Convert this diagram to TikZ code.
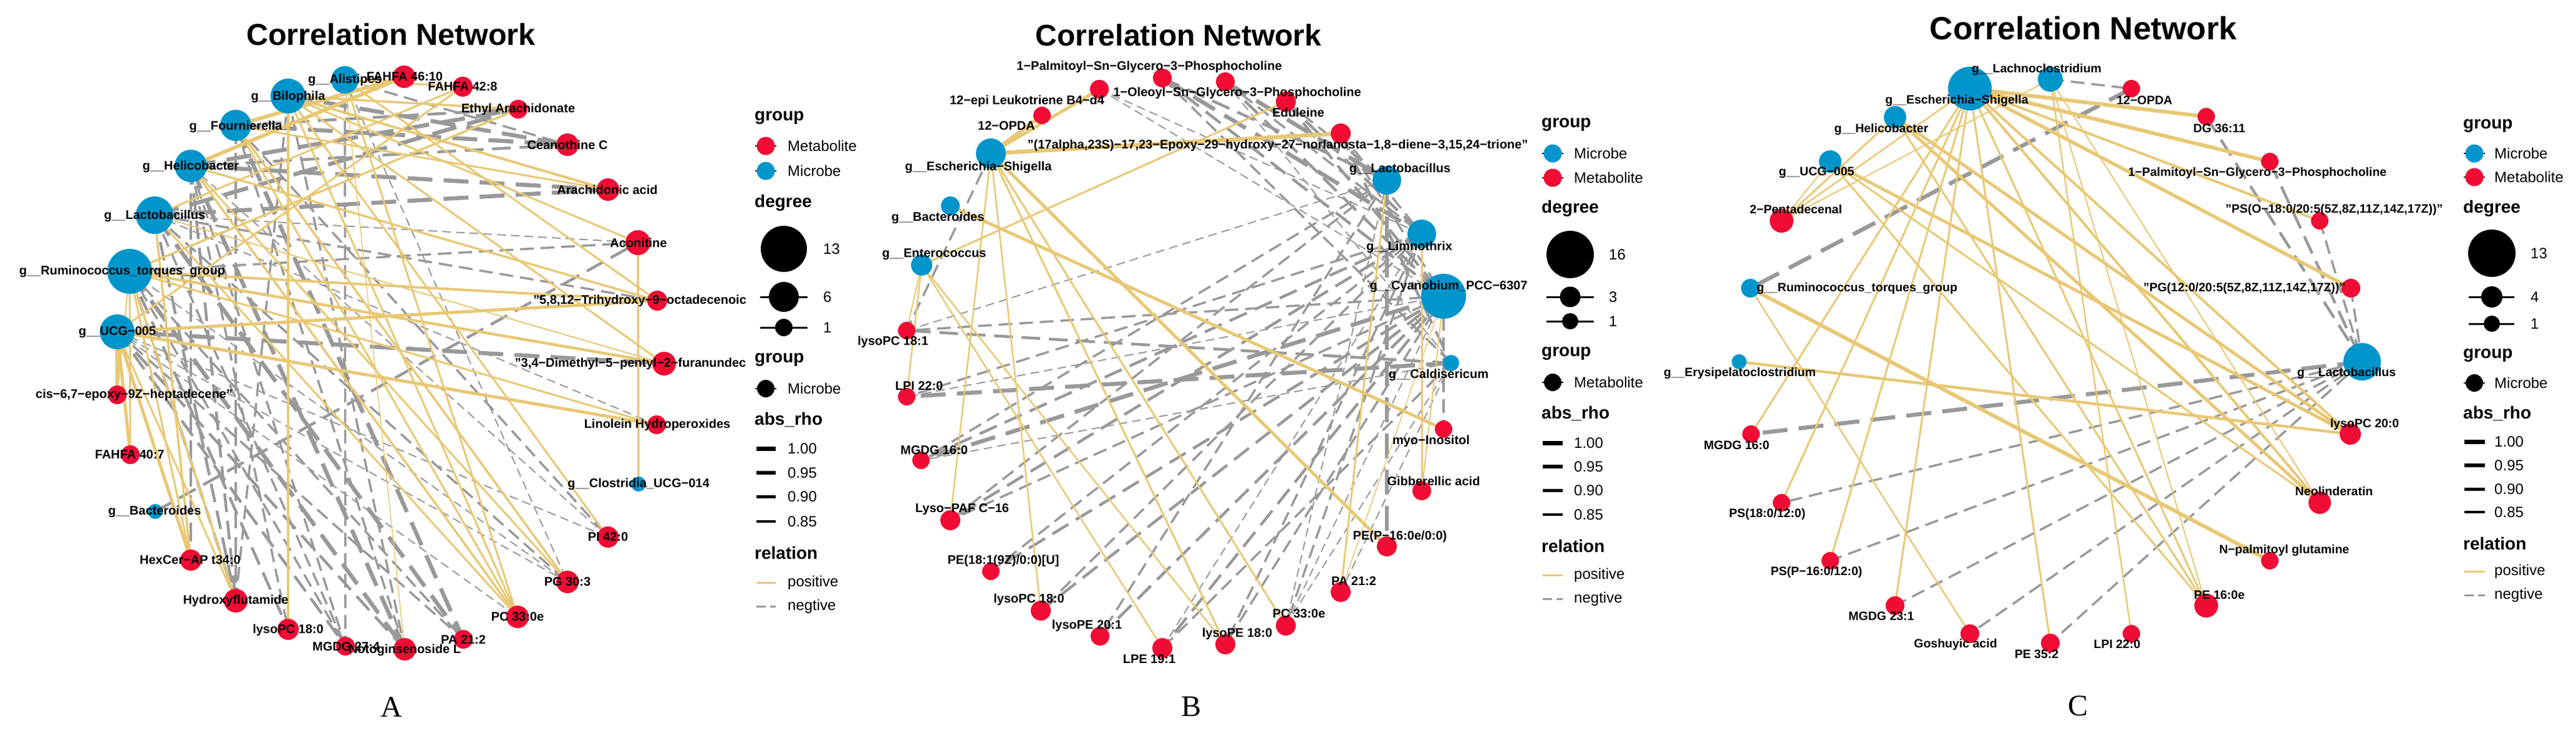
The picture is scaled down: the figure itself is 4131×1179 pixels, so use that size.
\documentclass[tikz,border=0pt]{standalone}
\usepackage{fontspec}
\setmainfont{Liberation Sans}
\newfontfamily\serifL{Liberation Serif}
\definecolor{posc}{RGB}{232,200,117}
\definecolor{negc}{RGB}{153,153,153}
\definecolor{metc}{RGB}{240,12,52}
\definecolor{micc}{RGB}{0,150,204}
\pgfdeclarelayer{bgw}
\pgfdeclarelayer{edges}
\pgfsetlayers{bgw,edges,main}
\tikzset{
  mic/.style={circle,fill=micc,draw=none,inner sep=0pt,minimum size=#1pt},
  met/.style={circle,fill=metc,draw=none,inner sep=0pt,minimum size=#1pt},
  blk/.style={circle,fill=black,draw=none,inner sep=0pt,minimum size=#1pt},
  lbl/.style={font=\bfseries\fontsize{20}{22}\selectfont,inner sep=0pt},
  lblc/.style={font=\bfseries\fontsize{19.5}{22}\selectfont,inner sep=0pt},
  ttl/.style={font=\bfseries\fontsize{#1}{52}\selectfont,inner sep=0pt},
  lgt/.style={font=\bfseries\fontsize{28}{30}\selectfont,inner sep=0pt,anchor=west},
  lgl/.style={font=\fontsize{24}{26}\selectfont,inner sep=0pt,anchor=west},
  pnl/.style={font=\serifL\fontsize{48}{52}\selectfont,inner sep=0pt},
  posE/.style={draw=posc,line width=#1pt},
  ngA/.style={draw=negc,line width=6.5pt,dash pattern=on 40pt off 18pt},
  ngB/.style={draw=negc,line width=4.5pt,dash pattern=on 30pt off 14pt},
  ngC/.style={draw=negc,line width=3.5pt,dash pattern=on 22pt off 11pt},
  ngD/.style={draw=negc,line width=2pt,dash pattern=on 14pt off 8pt},
  keyln/.style={draw=black,line width=#1pt},
  dashkey/.style={draw=negc,line width=3pt,dash pattern=on 15pt off 7pt},
}
\begin{document}
\begin{tikzpicture}[x=1pt,y=-1pt]
\useasboundingbox (0,0) rectangle (4131,1179);
\begin{pgfonlayer}{bgw}
\fill[white] (0,0) rectangle (4131,1179);
\end{pgfonlayer}

% ================= PANEL A =================
\node[ttl=48.5] (aTitle) at (627,55) {Correlation Network};
\node[pnl] (aLetter) at (628,1134) {A};
% microbes
\node[mic=44] (aAli) at (553,128) {};
\node[mic=56] (aBil) at (462,154) {};
\node[mic=50] (aFou) at (378,201) {};
\node[mic=52] (aHel) at (306,266) {};
\node[mic=60] (aLac) at (248,345) {};
\node[mic=72] (aRum) at (208,435) {};
\node[mic=56] (aUCG) at (188,532) {};
\node[mic=24] (aBac) at (249,820) {};
\node[mic=24] (aClo) at (1024,776) {};
% metabolites
\node[met=36] (aF46) at (648,123) {};
\node[met=32] (aF42) at (742,139) {};
\node[met=30] (aEA) at (831,175) {};
\node[met=36] (aCC) at (910,232) {};
\node[met=36] (aAA) at (975,304) {};
\node[met=40] (aAco) at (1023,389) {};
\node[met=32] (aT58) at (1054,482) {};
\node[met=38] (aDM) at (1065,583) {};
\node[met=30] (aLH) at (1053,681) {};
\node[met=34] (aPI) at (975,861) {};
\node[met=36] (aPG) at (910,933) {};
\node[met=36] (aPC) at (830,989) {};
\node[met=30] (aPA) at (743,1025) {};
\node[met=36] (aNL) at (649,1041) {};
\node[met=30] (aMG) at (554,1036) {};
\node[met=34] (aLPC) at (462,1009) {};
\node[met=38] (aHF) at (378,963) {};
\node[met=34] (aHC) at (306,898) {};
\node[met=30] (aF40) at (209,729) {};
\node[met=30] (aCIS) at (188,633) {};

\begin{pgfonlayer}{edges}
\foreach \a/\b in {aBil/aCC,aFou/aCC,aFou/aPA,aHel/aAA,aHel/aNL,aLac/aAA,aLac/aPA,aLac/aEA,aRum/aNL,aUCG/aDM,aHel/aEA}
  \draw[ngA] (\a.center) -- (\b.center);
\foreach \a/\b in {aBac/aAco,aRum/aHF,aHel/aHF,aUCG/aNL,aHel/aCC,aFou/aHF,aHel/aHC,aRum/aLPC,aUCG/aMG,aLac/aHF,aFou/aEA}
  \draw[ngB] (\a.center) -- (\b.center);
\foreach \a/\b in {aAli/aCC,aFou/aPI,aFou/aNL,aHel/aLPC,aLac/aMG,aLac/aT58,aRum/aAco,aRum/aMG,aUCG/aPA,aLac/aPG,aHel/aMG,aBil/aNL,aRum/aPA,aBil/aHF,aAli/aMG}
  \draw[ngC] (\a.center) -- (\b.center);
\foreach \a/\b in {aLac/aAco,aRum/aPG,aUCG/aPI,aAli/aPG,aUCG/aPG,aUCG/aPC,aHel/aPI,aLac/aLH}
  \draw[ngD] (\a.center) -- (\b.center);
\foreach \a/\b/\w in {aAli/aF42/3,aAli/aNL/1.5,aAli/aPC/3,aAli/aT58/3,
  aBil/aEA/3.5,aBil/aAco/3,aBil/aLPC/3.5,aBil/aPC/3,aBil/aAA/4,aBil/aDM/3,aBil/aPI/3,
  aFou/aF46/6,aFou/aAA/3,aFou/aPG/3.5,aFou/aPC/3,
  aHel/aF46/6,aHel/aT58/3.5,aHel/aPC/3.5,aHel/aPG/3,
  aLac/aF42/3,aLac/aDM/2,aLac/aHC/3.5,aLac/aPC/3,
  aRum/aEA/3.5,aRum/aDM/4.5,aRum/aLH/3,aRum/aHF/3.5,aRum/aHC/3,aRum/aF40/3,aRum/aCIS/2,aRum/aT58/4,
  aUCG/aCIS/6,aUCG/aF40/5,aUCG/aHC/5,aUCG/aHF/3,aUCG/aT58/5,aUCG/aLH/5,aUCG/aF42/3,
  aClo/aAco/3.5}
  \draw[posE=\w] (\a.center) -- (\b.center);
\end{pgfonlayer}

% labels A
\node[lbl] (laAli) at (553,128) {g\_\_Alistipes};
\node[lbl] (laBil) at (462,155) {g\_\_Bilophila};
\node[lbl] (laFou) at (378,203) {g\_\_Fournierella};
\node[lbl] (laHel) at (306,267) {g\_\_Helicobacter};
\node[lbl] (laLac) at (248,346) {g\_\_Lactobacillus};
\node[lbl] (laRum) at (196,435) {g\_\_Ruminococcus\_torques\_group};
\node[lbl] (laUCG) at (188,533) {g\_\_UCG−005};
\node[lbl] (laBac) at (248,820) {g\_\_Bacteroides};
\node[lbl] (laClo) at (1024,776) {g\_\_Clostridia\_UCG−014};
\node[lbl] (laF46) at (649,123) {FAHFA 46:10};
\node[lbl] (laF42) at (742,139) {FAHFA 42:8};
\node[lbl] (laEA) at (831,175) {Ethyl Arachidonate};
\node[lbl] (laCC) at (910,232) {Ceanothine C};
\node[lbl] (laAA) at (974,304) {Arachidonic acid};
\node[lbl] (laAco) at (1024,389) {Aconitine};
\node[lbl] (laT58) at (1026,482) {"5,8,12−Trihydroxy−9−octadecenoic};
\node[lbl] (laDM) at (1011,583) {"3,4−Dimethyl−5−pentyl−2−furanundec};
\node[lbl] (laLH) at (1054,681) {Linolein Hydroperoxides};
\node[lbl] (laPI) at (975,861) {PI 42:0};
\node[lbl] (laPG) at (910,933) {PG 30:3};
\node[lbl] (laPC) at (830,989) {PC 33:0e};
\node[lbl] (laPA) at (743,1026) {PA 21:2};
\node[lbl] (laMG) at (555,1037) {MGDG 27:4};
\node[lbl] (laNL) at (649,1042) {Notoginsenoside L};
\node[lbl] (laLPC) at (462,1010) {lysoPC 18:0};
\node[lbl] (laHF) at (378,963) {Hydroxyflutamide};
\node[lbl] (laHC) at (305,898) {HexCer−AP t34:0};
\node[lbl] (laF40) at (208,729) {FAHFA 40:7};
\node[lbl] (laCIS) at (215,633) {cis−6,7−epoxy−9Z−heptadecene"};

% legend A
\node[lgt] (agT1) at (1210,189) {group};
\draw[keyln=2] (1211,234) -- (1245,234); \node[met=29] (agK1) at (1228,234) {};
\node[lgl] (agL1) at (1263,234) {Metabolite};
\draw[keyln=2] (1211,274) -- (1245,274); \node[mic=29] (agK2) at (1228,274) {};
\node[lgl] (agL2) at (1263,274) {Microbe};
\node[lgt] (agT2) at (1210,325) {degree};
\node[blk=74] (agD1) at (1257,399) {};
\node[lgl] (agN1) at (1320,399) {13};
\draw[keyln=3] (1219,476) -- (1295,476); \node[blk=48] (agD2) at (1257,476) {};
\node[lgl] (agN2) at (1320,476) {6};
\draw[keyln=3] (1219,525) -- (1295,525); \node[blk=28] (agD3) at (1257,525) {};
\node[lgl] (agN3) at (1320,525) {1};
\node[lgt] (agT3) at (1210,577) {group};
\draw[keyln=2] (1211,623) -- (1245,623); \node[blk=28] (agK3) at (1228,623) {};
\node[lgl] (agL3) at (1263,623) {Microbe};
\node[lgt] (agT4) at (1210,673) {abs\_rho};
\draw[keyln=7] (1213,719) -- (1244,719); \node[lgl] (agR1) at (1263,719) {1.00};
\draw[keyln=6] (1213,758) -- (1244,758); \node[lgl] (agR2) at (1263,758) {0.95};
\draw[keyln=5] (1213,796) -- (1244,796); \node[lgl] (agR3) at (1263,796) {0.90};
\draw[keyln=4] (1213,836) -- (1244,836); \node[lgl] (agR4) at (1263,836) {0.85};
\node[lgt] (agT5) at (1210,886) {relation};
\draw[posE=3] (1213,934) -- (1244,934); \node[lgl] (agP) at (1263,934) {positive};
\draw[dashkey] (1213,972) -- (1244,972); \node[lgl] (agQ) at (1263,972) {negtive};

% ================= PANEL B =================
\node[ttl=48] (bTitle) at (1890,56) {Correlation Network};
\node[pnl] (bLetter) at (1910,1133) {B};
\node[mic=48] (bEsch) at (1589,246) {};
\node[mic=30] (bBac) at (1524,330) {};
\node[mic=34] (bEnt) at (1478,425) {};
\node[mic=46] (bLac) at (2224,289) {};
\node[mic=46] (bLim) at (2280,375) {};
\node[mic=72] (bCya) at (2315,475) {};
\node[mic=26] (bCal) at (2327,582) {};
\node[met=28] (bO12) at (1671,185) {};
\node[met=30] (bLTB) at (1763,143) {};
\node[met=30] (bPPC) at (1864,125) {};
\node[met=30] (bOPC) at (1965,131) {};
\node[met=32] (bEdu) at (2062,163) {};
\node[met=32] (bEp) at (2150,214) {};
\node[met=28] (bLPCa) at (1454,530) {};
\node[met=28] (bLPI) at (1454,636) {};
\node[met=28] (bMG) at (1477,738) {};
\node[met=32] (bLPAF) at (1524,834) {};
\node[met=28] (bPE) at (1589,916) {};
\node[met=32] (bLPCb) at (1669,979) {};
\node[met=30] (bLPEa) at (1764,1020) {};
\node[met=32] (bLPEb) at (1864,1039) {};
\node[met=32] (bLPEc) at (1965,1033) {};
\node[met=32] (bPC) at (2062,1003) {};
\node[met=32] (bPA) at (2150,949) {};
\node[met=32] (bPEP) at (2224,876) {};
\node[met=30] (bGib) at (2280,787) {};
\node[met=28] (bMyo) at (2315,688) {};

\begin{pgfonlayer}{edges}
\foreach \a/\b in {bPPC/bLim,bOPC/bLac,bCal/bLPI,bCya/bMG,bLac/bPEP}
  \draw[ngA] (\a.center) -- (\b.center);
\foreach \a/\b in {bPPC/bCya,bOPC/bCya,bEdu/bCya,bEdu/bLim,bCal/bLPCa,bLim/bLPAF,bCya/bPE,bCya/bLPCb,bCya/bLPEb,bPPC/bLac,bEp/bCal,bLim/bMG,bCya/bLPEa}
  \draw[ngB] (\a.center) -- (\b.center);
\foreach \a/\b in {bOPC/bLim,bEp/bCya,bLac/bLPEa,bLim/bLPEc,bCya/bMyo,bEsch/bLPCa,bLim/bLPCb,bLac/bLPAF,bEdu/bLac,bEp/bLim,bPPC/bCal,bLac/bMG,bLim/bLPI,bCya/bLPCa,bCya/bLPAF,bCal/bLPEb,bLim/bPE,bCya/bLPEc,bLim/bPC}
  \draw[ngC] (\a.center) -- (\b.center);
\foreach \a/\b in {bLTB/bLim,bCya/bLPI,bCya/bPC,bCal/bPC,bCal/bPA,bLTB/bCya,bOPC/bCal,bLac/bLPCa,bCal/bMG,bLac/bPC,bLim/bLPEb}
  \draw[ngD] (\a.center) -- (\b.center);
\foreach \a/\b/\w in {bEsch/bO12/6,bEsch/bLTB/5,bEsch/bEp/6.5,bEsch/bPEP/5,bEsch/bPC/3,bEsch/bLPCb/2.5,bEsch/bLPAF/2.5,bEsch/bLPEc/3,
  bBac/bMyo/5,bEnt/bEdu/3,bEnt/bLPI/2.5,bEnt/bLPEb/2.5,bEnt/bLPEc/2.5,bEnt/bLPCa/2,
  bLac/bPA/3,bLim/bGib/3,bCya/bPA/1.5,bCya/bGib/2}
  \draw[posE=\w] (\a.center) -- (\b.center);
\end{pgfonlayer}

\node[lbl] (lbO12) at (1614,202) {12−OPDA};
\node[lbl] (lbLTB) at (1647,162) {12−epi Leukotriene B4−d4};
\node[lbl] (lbPPC) at (1843,107) {1−Palmitoyl−Sn−Glycero−3−Phosphocholine};
\node[lbl] (lbOPC) at (1984,149) {1−Oleoyl−Sn−Glycero−3−Phosphocholine};
\node[lbl] (lbEdu) at (2082,180) {Eduleine};
\node[lbl] (lbEp) at (2049,233) {"(17alpha,23S)−17,23−Epoxy−29−hydroxy−27−norlanosta−1,8−diene−3,15,24−trione"};
\node[lbl] (lbEsch) at (1569,268) {g\_\_Escherichia−Shigella};
\node[lbl] (lbBac) at (1504,349) {g\_\_Bacteroides};
\node[lbl] (lbEnt) at (1498,408) {g\_\_Enterococcus};
\node[lbl] (lbLPCa) at (1432,548) {lysoPC 18:1};
\node[lbl] (lbLac) at (2245,271) {g\_\_Lactobacillus};
\node[lbl] (lbLim) at (2260,396) {g\_\_Limnothrix};
\node[lbl] (lbCya) at (2323,459) {g\_\_Cyanobium\_PCC−6307};
\node[lbl] (lbCal) at (2307,601) {g\_\_Caldisericum};
\node[lbl] (lbLPI) at (1474,619) {LPI 22:0};
\node[lbl] (lbMyo) at (2295,707) {myo−Inositol};
\node[lbl] (lbMG) at (1498,722) {MGDG 16:0};
\node[lbl] (lbGib) at (2299,771) {Gibberellic acid};
\node[lbl] (lbLPAF) at (1543,817) {Lyso−PAF C−16};
\node[lbl] (lbPEP) at (2245,860) {PE(P−16:0e/0:0)};
\node[lbl] (lbPE) at (1609,899) {PE(18:1(9Z)/0:0)[U]};
\node[lbl] (lbPA) at (2171,932) {PA 21:2};
\node[lbl] (lbLPCb) at (1650,961) {lysoPC 18:0};
\node[lbl] (lbPC) at (2083,984) {PC 33:0e};
\node[lbl] (lbLPEa) at (1743,1003) {lysoPE 20:1};
\node[lbl] (lbLPEb) at (1843,1057) {LPE 19:1};
\node[lbl] (lbLPEc) at (1984,1016) {lysoPE 18:0};

% legend B
\node[lgt] (bgT1) at (2472,200) {group};
\draw[keyln=2] (2473,246) -- (2507,246); \node[mic=29] (bgK1) at (2490,246) {};
\node[lgl] (bgL1) at (2524,246) {Microbe};
\draw[keyln=2] (2473,285) -- (2507,285); \node[met=29] (bgK2) at (2490,285) {};
\node[lgl] (bgL2) at (2524,285) {Metabolite};
\node[lgt] (bgT2) at (2472,334) {degree};
\node[blk=76] (bgD1) at (2518,408) {};
\node[lgl] (bgN1) at (2580,408) {16};
\draw[keyln=3] (2480,476) -- (2556,476); \node[blk=33] (bgD2) at (2518,476) {};
\node[lgl] (bgN2) at (2580,476) {3};
\draw[keyln=3] (2480,515) -- (2556,515); \node[blk=26] (bgD3) at (2518,515) {};
\node[lgl] (bgN3) at (2580,515) {1};
\node[lgt] (bgT3) at (2472,567) {group};
\draw[keyln=2] (2473,613) -- (2507,613); \node[blk=28] (bgK3) at (2490,613) {};
\node[lgl] (bgL3) at (2524,613) {Metabolite};
\node[lgt] (bgT4) at (2472,663) {abs\_rho};
\draw[keyln=7] (2474,710) -- (2506,710); \node[lgl] (bgR1) at (2524,710) {1.00};
\draw[keyln=6] (2474,748) -- (2506,748); \node[lgl] (bgR2) at (2524,748) {0.95};
\draw[keyln=5] (2474,786) -- (2506,786); \node[lgl] (bgR3) at (2524,786) {0.90};
\draw[keyln=4] (2474,825) -- (2506,825); \node[lgl] (bgR4) at (2524,825) {0.85};
\node[lgt] (bgT5) at (2472,875) {relation};
\draw[posE=3] (2474,922) -- (2506,922); \node[lgl] (bgP) at (2524,922) {positive};
\draw[dashkey] (2474,960) -- (2506,960); \node[lgl] (bgQ) at (2524,960) {negtive};

% ================= PANEL C =================
\node[ttl=51.5] (cTitle) at (3341,45) {Correlation Network};
\node[pnl] (cLetter) at (3332,1132) {C};
\node[mic=70] (cEsch) at (3159,142) {};
\node[mic=40] (cLach) at (3288,127) {};
\node[mic=36] (cHel) at (3039,188) {};
\node[mic=36] (cUCG) at (2935,259) {};
\node[mic=30] (cRum) at (2807,462) {};
\node[mic=24] (cEry) at (2789,580) {};
\node[mic=60] (cLac) at (3788,580) {};
\node[met=28] (cO12) at (3418,142) {};
\node[met=28] (cDG) at (3538,187) {};
\node[met=28] (cPPC) at (3640,259) {};
\node[met=28] (cPSO) at (3720,354) {};
\node[met=30] (cPG) at (3770,462) {};
\node[met=38] (cPent) at (2857,354) {};
\node[met=28] (cMGa) at (2808,696) {};
\node[met=34] (cLPC) at (3769,696) {};
\node[met=28] (cPSa) at (2857,806) {};
\node[met=36] (cNeo) at (3720,806) {};
\node[met=28] (cPSb) at (2935,899) {};
\node[met=28] (cNPG) at (3640,899) {};
\node[met=30] (cMGb) at (3039,971) {};
\node[met=38] (cPEa) at (3538,971) {};
\node[met=30] (cGos) at (3159,1016) {};
\node[met=30] (cPEb) at (3288,1031) {};
\node[met=28] (cLPI) at (3418,1016) {};

\begin{pgfonlayer}{edges}
\foreach \a/\b in {cLac/cMGa,cO12/cRum}
  \draw[ngA] (\a.center) -- (\b.center);
\foreach \a/\b in {cDG/cLac,cPPC/cLac}
  \draw[ngB] (\a.center) -- (\b.center);
\foreach \a/\b in {cPSO/cLac,cPG/cLac,cLac/cPSa,cLac/cPSb,cLac/cMGb,cLach/cO12,cLac/cGos,cLac/cPEb}
  \draw[ngC] (\a.center) -- (\b.center);
\foreach \a/\b/\w in {cEsch/cDG/6,cEsch/cPPC/6,cEsch/cPSO/4,cEsch/cPG/5.5,cEsch/cMGa/3,cEsch/cPSa/3,cEsch/cPSb/3,cEsch/cMGb/3,cEsch/cPEb/3,cEsch/cPEa/3,cEsch/cNeo/4,cEsch/cLPC/4,cEsch/cPent/2.5,
  cLach/cPent/2,cLach/cLPI/2.5,cLach/cPEa/2,cLach/cNeo/2,
  cHel/cPent/3,cHel/cLPC/5,cHel/cNeo/5,cHel/cPEa/3,
  cUCG/cPent/2,cUCG/cLPC/5,cUCG/cPEa/3,cUCG/cNeo/3,
  cRum/cNPG/6,cRum/cGos/2.5,cEry/cLPC/4.5}
  \draw[posE=\w] (\a.center) -- (\b.center);
\end{pgfonlayer}

\node[lblc] (lcEsch) at (3138,161) {g\_\_Escherichia−Shigella};
\node[lblc] (lcLach) at (3266,111) {g\_\_Lachnoclostridium};
\node[lblc] (lcO12) at (3439,161) {12−OPDA};
\node[lblc] (lcDG) at (3559,206) {DG 36:11};
\node[lblc] (lcPPC) at (3620,277) {1−Palmitoyl−Sn−Glycero−3−Phosphocholine};
\node[lblc] (lcPSO) at (3743,336) {"PS(O−18:0/20:5(5Z,8Z,11Z,14Z,17Z))"};
\node[lblc] (lcPG) at (3599,462) {"PG(12:0/20:5(5Z,8Z,11Z,14Z,17Z))"};
\node[lblc] (lcHel) at (3017,207) {g\_\_Helicobacter};
\node[lblc] (lcUCG) at (2913,277) {g\_\_UCG−005};
\node[lblc] (lcPent) at (2880,336) {2−Pentadecenal};
\node[lblc] (lcRum) at (2978,462) {g\_\_Ruminococcus\_torques\_group};
\node[lblc] (lcEry) at (2790,598) {g\_\_Erysipelatoclostridium};
\node[lblc] (lcLac) at (3763,598) {g\_\_Lactobacillus};
\node[lblc] (lcMGa) at (2785,714) {MGDG 16:0};
\node[lblc] (lcLPC) at (3792,680) {lysoPC 20:0};
\node[lblc] (lcPSa) at (2834,824) {PS(18:0/12:0)};
\node[lblc] (lcNeo) at (3743,788) {Neolinderatin};
\node[lblc] (lcPSb) at (2913,917) {PS(P−16:0/12:0)};
\node[lblc] (lcNPG) at (3663,882) {N−palmitoyl glutamine};
\node[lblc] (lcMGb) at (3017,988) {MGDG 23:1};
\node[lblc] (lcPEa) at (3559,954) {PE 16:0e};
\node[lblc] (lcGos) at (3136,1033) {Goshuyic acid};
\node[lblc] (lcPEb) at (3266,1049) {PE 35:2};
\node[lblc] (lcLPI) at (3395,1033) {LPI 22:0};

% legend C
\node[lgt] (cgT1) at (3950,202) {group};
\draw[keyln=2] (3951,246) -- (3985,246); \node[mic=29] (cgK1) at (3968,246) {};
\node[lgl] (cgL1) at (4000,246) {Microbe};
\draw[keyln=2] (3951,284) -- (3985,284); \node[met=29] (cgK2) at (3968,284) {};
\node[lgl] (cgL2) at (4000,284) {Metabolite};
\node[lgt] (cgT2) at (3950,334) {degree};
\node[blk=76] (cgD1) at (3996,406) {};
\node[lgl] (cgN1) at (4058,406) {13};
\draw[keyln=3] (3959,476) -- (4032,476); \node[blk=34] (cgD2) at (3996,476) {};
\node[lgl] (cgN2) at (4058,476) {4};
\draw[keyln=3] (3959,519) -- (4032,519); \node[blk=26] (cgD3) at (3996,519) {};
\node[lgl] (cgN3) at (4058,519) {1};
\node[lgt] (cgT3) at (3950,570) {group};
\draw[keyln=2] (3951,614) -- (3985,614); \node[blk=28] (cgK3) at (3968,614) {};
\node[lgl] (cgL3) at (4000,614) {Microbe};
\node[lgt] (cgT4) at (3950,663) {abs\_rho};
\draw[keyln=7] (3952,708) -- (3985,708); \node[lgl] (cgR1) at (4000,708) {1.00};
\draw[keyln=6] (3952,746) -- (3985,746); \node[lgl] (cgR2) at (4000,746) {0.95};
\draw[keyln=5] (3952,784) -- (3985,784); \node[lgl] (cgR3) at (4000,784) {0.90};
\draw[keyln=4] (3952,821) -- (3985,821); \node[lgl] (cgR4) at (4000,821) {0.85};
\node[lgt] (cgT5) at (3950,871) {relation};
\draw[posE=3] (3952,916) -- (3985,916); \node[lgl] (cgP) at (4000,916) {positive};
\draw[dashkey] (3952,954) -- (3985,954); \node[lgl] (cgQ) at (4000,954) {negtive};
\end{tikzpicture}
\end{document}
